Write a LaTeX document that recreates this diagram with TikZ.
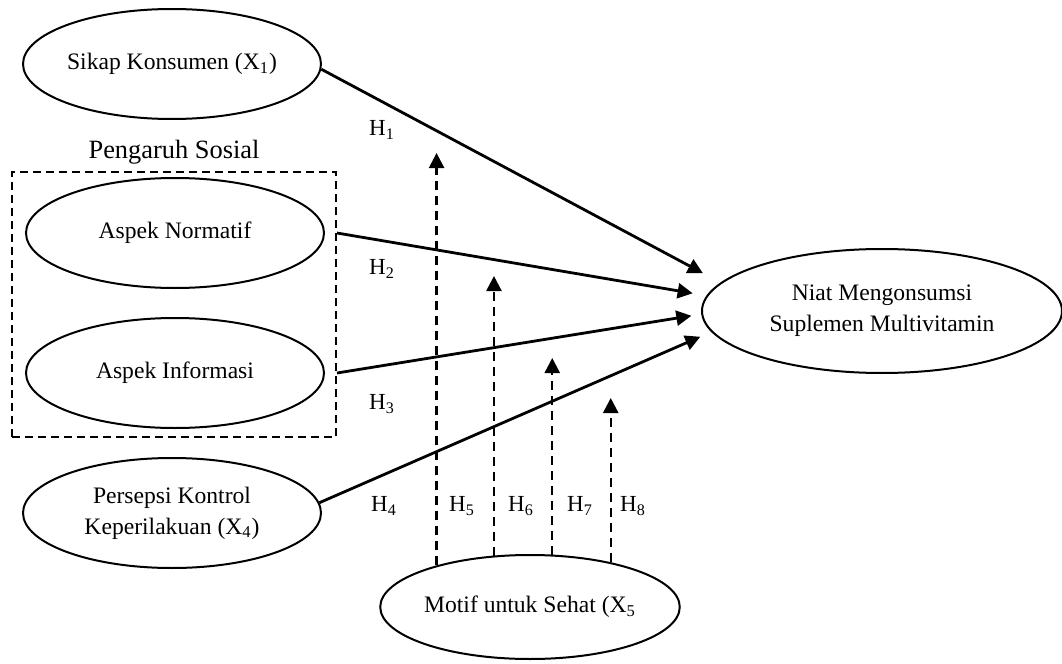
\documentclass[tikz,border=0pt]{standalone}
\usepackage{fontspec}
\setmainfont{Liberation Serif}
\usetikzlibrary{shapes.geometric, arrows.meta, positioning}
\tikzstyle{latent} = [ellipse, draw=black, line width=1pt, inner sep=0pt,
minimum width=149pt, minimum height=55pt, text centered, align=center,
font=\fontsize{11.8}{15.5}\selectfont]
\tikzstyle{groupbox} = [rectangle, draw=black, line width=1pt,
dash pattern=on 4pt off 2.5pt, minimum width=162pt, minimum height=132.5pt]
\tikzstyle{hypo} = [inner sep=0pt, font=\fontsize{11.5}{14}\selectfont]
\tikzstyle{arrow} = [line width=1.4pt, -{Triangle[length=7.5pt, width=7.5pt]}]
\tikzstyle{dasharrow} = [arrow, line width=1.2pt, dash pattern=on 4.5pt off 3pt]

\begin{document}
\begin{tikzpicture}[x=0.5pt, y=-0.5pt, node distance=70pt]
\useasboundingbox (0,0) rectangle (1062,664);

\node(sikap)[latent] at (172,64){Sikap Konsumen (X\textsubscript{1})};
\node(normatif)[latent, below of=sikap, xshift=1.5pt, yshift=-14.5pt]{Aspek Normatif};
\node(informasi)[latent, below of=normatif]{Aspek Informasi};
\node(persepsi)[latent, below of=informasi, xshift=-1.5pt]{Persepsi Kontrol\\Keperilakuan (X\textsubscript{4})};
\node(sosial)[groupbox] at (174,304.5){};
\node(sosialLabel)[above=3pt of sosial, inner sep=0pt, font=\fontsize{13.2}{16}\selectfont]{Pengaruh Sosial};
\node(niat)[latent, minimum width=180pt, minimum height=62pt] at (882,311){Niat Mengonsumsi\\Suplemen Multivitamin};
\node(motif)[latent, minimum width=148pt, minimum height=52pt] at (530,607){Motif untuk Sehat (X\textsubscript{5}};

\node(h1)[hypo] at (382,130){H\textsubscript{1}};
\node(h2)[hypo] at (382,269){H\textsubscript{2}};
\node(h3)[hypo] at (382,404){H\textsubscript{3}};
\node(h4)[hypo] at (384,506){H\textsubscript{4}};
\node(h5)[hypo] at (462,506){H\textsubscript{5}};
\node(h6)[hypo] at (521,506){H\textsubscript{6}};
\node(h7)[hypo] at (580,506){H\textsubscript{7}};
\node(h8)[hypo] at (633,506){H\textsubscript{8}};

\coordinate(tipFive) at (438,153);
\coordinate(tipSix) at (495,276);
\coordinate(tipSeven) at (552,358);
\coordinate(tipEight) at (608,398);

\draw[arrow, shorten >=10pt](sikap.-2) -- (niat.170.6);
\draw[arrow, shorten >=7pt](sosial.east |- normatif.east) -- (niat.175.5);
\draw[arrow, shorten >=5pt](sosial.east |- informasi.east) -- (niat.181.7);
\draw[arrow, shorten >=6pt](persepsi.4) -- (niat.187.1);
\draw[dasharrow](motif.156) -- (motif.156 |- tipFive);
\draw[dasharrow](motif.125) -- (motif.125 |- tipSix);
\draw[dasharrow](motif.67) -- (motif.67 |- tipSeven);
\draw[dasharrow](motif.29.5) -- (motif.29.5 |- tipEight);

\end{tikzpicture}
\end{document}
